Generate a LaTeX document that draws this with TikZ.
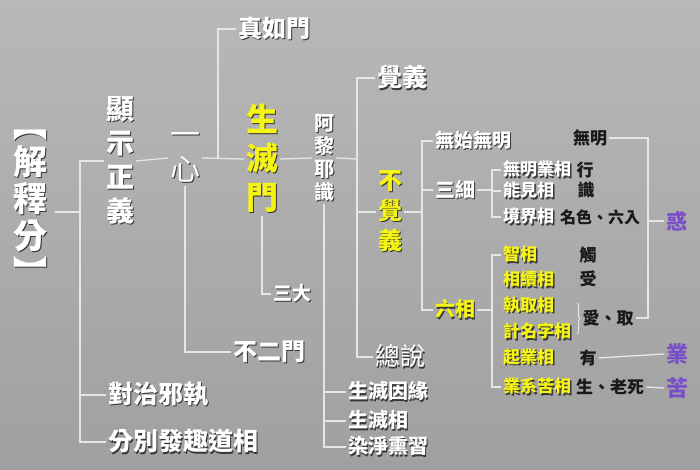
\documentclass[tikz,border=0pt]{standalone}
\usepackage{fontspec}
\usepackage{tikz}
\usetikzlibrary{positioning}
\usetikzlibrary{decorations.pathreplacing}
\setmainfont{Noto Sans CJK TC}
\definecolor{bgtop}{RGB}{184,184,184}
\definecolor{bgbot}{RGB}{160,160,160}
\definecolor{linecol}{RGB}{230,230,230}
\definecolor{hlyellow}{RGB}{246,244,18}
\definecolor{kindpurple}{RGB}{122,78,200}
\definecolor{shadecol}{RGB}{55,55,55}
\newcommand\fs[2]{\fontsize{#1}{#2}\selectfont\bfseries}
\newcommand\sh[1]{\rlap{\kern1.3pt\raisebox{-1.3pt}{\color{shadecol}#1}}#1}
\newcommand\vtext[1]{\parbox{1em}{\centering #1}}

\begin{document}
\begin{tikzpicture}[x=1pt, y=-1pt,
    every node/.style={inner sep=2pt},
    wlab/.style={text=white},
    ylab/.style={text=hlyellow},
    blab/.style={text=black!90},
    plab/.style={text=kindpurple},
    link/.style={draw=linecol, line width=1.3pt}]
    \shade[top color=bgtop, bottom color=bgbot] (0,0) rectangle (700,470);
    \useasboundingbox (0,0) rectangle (700,470);

    % left part
    \node[wlab, font=\fs{34}{37}, inner xsep=8pt] (jieshi) at (30,208) {\sh{\vtext{︻\\解\\釋\\分\\︼}}};
    \node[wlab, font=\fs{28}{34}] (xianshi) at (120,161) {\sh{\vtext{顯\\示\\正\\義}}};
    \node[wlab, font=\fs{25}{30}, anchor=west] (duizhi) at (106,395) {\sh{對治邪執}};
    \node[wlab, font=\fs{25}{30}, below=47pt of duizhi.west, anchor=west] (fenbie) {\sh{分別發趣道相}};
    \node[wlab, font=\fs{30}{35}\mdseries] (yixin) at (185,158) {\sh{\vtext{一\\心}}};
    \node[wlab, font=\fs{24}{28}] (zhenru) at (274,29) {\sh{真如門}};
    \node[ylab, font=\fs{32}{39}] (shengmen) at (262,159) {\sh{\vtext{生\\滅\\門}}};
    \node[wlab, font=\fs{19}{22}] (sanda) at (292,294) {\sh{三大}};
    \node[wlab, font=\fs{24}{28}] (buer) at (269,352) {\sh{不二門}};

    % alaya
    \node[wlab, font=\fs{20}{23}] (alaya) at (324,158) {\sh{\vtext{阿\\黎\\耶\\識}}};
    \node[wlab, font=\fs{25}{30}] (jueyi) at (402,78) {\sh{覺義}};
    \node[ylab, font=\fs{24}{30}] (bujue) at (390,212) {\sh{\vtext{不\\覺\\義}}};
    \node[wlab, font=\fs{25}{30}\mdseries] (zongshuo) at (400,357) {\sh{總說}};
    \node[wlab, font=\fs{20}{23}, anchor=west] (yinyuan) at (346,392) {\sh{生滅因緣}};
    \node[wlab, font=\fs{20}{23}, below=29pt of yinyuan.west, anchor=west] (miexiang) {\sh{生滅相}};
    \node[wlab, font=\fs{20}{23}, below=26pt of miexiang.west, anchor=west] (ranjing) {\sh{染淨熏習}};

    % bujue
    \node[wlab, font=\fs{19}{22}, anchor=west] (wushi) at (433,141) {\sh{無始無明}};
    \node[wlab, font=\fs{20}{23}, anchor=west] (sanxi) at (433,190) {\sh{三細}};
    \node[ylab, font=\fs{20}{23}, anchor=west] (liuxiang) at (433,310) {\sh{六相}};
    \node[wlab, font=\fs{17}{20}, anchor=west] (wuming) at (501,170) {\sh{無明業相}};
    \node[wlab, font=\fs{17}{20}, below=21pt of wuming.west, anchor=west] (nengjian) {\sh{能見相}};
    \node[wlab, font=\fs{17}{20}, below=26pt of nengjian.west, anchor=west] (jingjie) {\sh{境界相}};
    \node[ylab, font=\fs{17}{20}, anchor=west] (zhixiang) at (501,255) {\sh{智相}};
    \node[ylab, font=\fs{17}{20}, below=25pt of zhixiang.west, anchor=west] (xuxiang) {\sh{相續相}};
    \node[ylab, font=\fs{17}{20}, below=26pt of xuxiang.west, anchor=west] (zhiqu) {\sh{執取相}};
    \node[ylab, font=\fs{17}{20}, below=26pt of zhiqu.west, anchor=west] (jiming) {\sh{計名字相}};
    \node[ylab, font=\fs{17}{20}, below=26pt of jiming.west, anchor=west] (qiye) {\sh{起業相}};
    \node[ylab, font=\fs{17}{20}, below=29pt of qiye.west, anchor=west] (yexi) {\sh{業系苦相}};

    % twelve links
    \node[blab, font=\fs{17}{20}] (wm) at (590,138) {無明};
    \node[blab, font=\fs{17}{20}] (xing) at (585,170) {行};
    \node[blab, font=\fs{17}{20}] (shi) at (586,190) {識};
    \node[blab, font=\fs{16}{20}] (mingse) at (600,217) {名色、六入};
    \node[blab, font=\fs{17}{20}] (chu) at (588,255) {觸};
    \node[blab, font=\fs{17}{20}] (shou) at (588,279) {受};
    \node[blab, font=\fs{17}{20}] (aiqu) at (608,318) {愛、取};
    \node[blab, font=\fs{17}{20}] (you) at (588,358) {有};
    \node[blab, font=\fs{17}{20}] (shenglao) at (610,387) {生、老死};
    \node[plab, font=\fs{21}{24}] (huo) at (677,221) {惑};
    \node[plab, font=\fs{22}{24}] (ye) at (677,354) {業};
    \node[plab, font=\fs{22}{24}] (ku) at (677,388) {苦};

    \coordinate (j0) at (80,212);
    \coordinate (k0) at (218,159);
    \coordinate (a0) at (357,159);
    \coordinate (b0) at (422,212);
    \coordinate (c0) at (492,190);
    \coordinate (d0) at (648,136);
    \coordinate (br) at (577,318);

    \draw[link] (jieshi.east |- j0) -- (j0);
    \draw[link] (xianshi.west) -| (j0 |- fenbie.west) -- (fenbie.west);
    \draw[link] (j0 |- duizhi.west) -- (duizhi.west);
    \draw[link] (xianshi.east) -- (yixin.west);
    \draw[link] (yixin.east) -- (shengmen.west);
    \draw[link] (zhenru.west) -| (k0);
    \draw[link] (yixin.south) |- (buer.west);
    \draw[link] (shengmen.south) |- (sanda.west);
    \draw[link] (shengmen.east) -- (alaya.west);
    \draw[link] (alaya.east) -- (a0);
    \draw[link] (jueyi.west) -| (a0 |- zongshuo.west) -- (zongshuo.west);
    \draw[link] (a0 |- bujue.west) -- (bujue.west);
    \draw[link] (alaya.south) |- (ranjing.west);
    \draw[link] (alaya.south |- yinyuan.west) -- (yinyuan.west);
    \draw[link] (alaya.south |- miexiang.west) -- (miexiang.west);

    \draw[link] (bujue.east) -- (b0);
    \draw[link] (wushi.west) -| (b0 |- liuxiang.west) -- (liuxiang.west);
    \draw[link] (b0 |- sanxi.west) -- (sanxi.west);
    \draw[link] (sanxi.east) -- (c0);
    \draw[link] (wuming.west) -| (c0 |- jingjie.west) -- (jingjie.west);
    \draw[link] (c0 |- nengjian.west) -- (nengjian.west);
    \draw[link] (liuxiang.east) -- (c0 |- liuxiang.east);
    \draw[link] (zhixiang.west) -| (c0 |- yexi.west) -- (yexi.west);

    \draw[link] (wm.east) -| (d0 |- aiqu.east) -- (aiqu.east);
    \draw[link] (d0 |- huo.west) -- (huo.west);
    \draw[link] (you.east) -- (ye.west);
    \draw[link] (shenglao.east) -- (ku.west);
    \draw[link, line width=1pt, decorate, decoration={brace, amplitude=3pt}]
        ([yshift=3pt]zhiqu.center -| br) -- ([yshift=-2pt]jiming.center -| br);
\end{tikzpicture}
\end{document}
